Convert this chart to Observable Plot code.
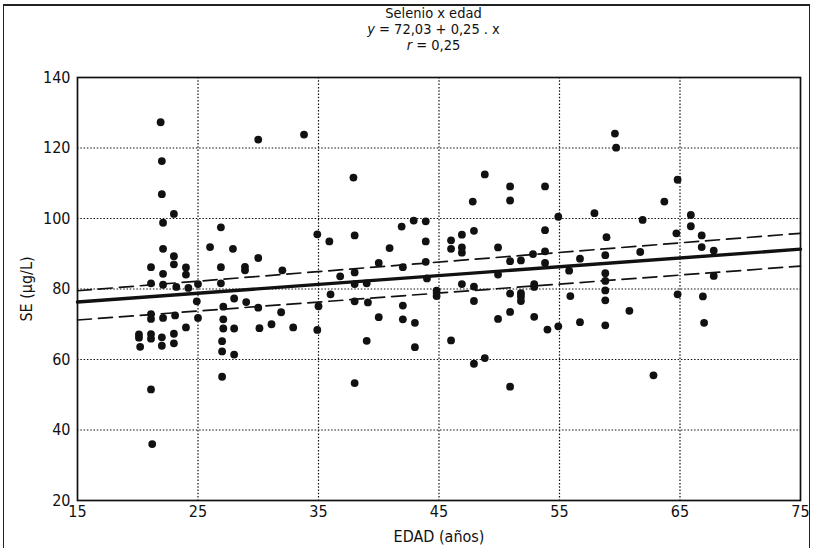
<!DOCTYPE html>
<html>
<head>
<meta charset="utf-8">
<script src="https://cdn.jsdelivr.net/npm/d3@7"></script>
<script src="https://cdn.jsdelivr.net/npm/@observablehq/plot@0.6"></script>
<style>
  html, body { margin: 0; padding: 0; background: #fff; }
  body { width: 813px; height: 548px; overflow: hidden; position: relative;
         font-family: "Liberation Sans Narrow", "Arial Narrow", "DejaVu Sans Condensed", sans-serif; color: #111; }
  #box { position: absolute; left: 3px; top: 4px; width: 807px; height: 560px; border: 1.5px solid #222; border-top-width: 2px; box-sizing: border-box; pointer-events: none; }
  #title { height: 62px; padding-top: 5px; box-sizing: border-box; text-align: center; font-size: 14.5px; line-height: 16px; padding-left: 54px; }
  #chart svg { display: block; }
</style>
</head>
<body>
<div id="box"></div>
<div id="title">
  <div>Selenio x edad</div>
  <div><i>y</i> = 72,03 + 0,25 . x</div>
  <div><i>r</i> = 0,25</div>
</div>
<div id="chart"></div>
<script>
// Edad (años) of each subject
const edad = [
  21.9, 30.0, 33.8, 22.0, 22.0, 23.0, 22.1, 26.9, 34.9, 35.9,
  22.1, 26.0, 27.9, 23.0, 30.0, 23.0, 21.1, 24.0, 24.0, 22.1,
  26.9, 28.9, 28.9, 32.0, 36.8, 21.1, 22.1, 23.2, 24.2, 25.0,
  26.9, 24.9, 28.0, 29.0, 27.1, 30.0, 31.9, 35.0, 36.0, 21.1,
  21.1, 22.1, 23.1, 25.0, 27.1, 24.0, 27.1, 28.0, 30.1, 31.1,
  32.9, 34.9, 20.1, 20.1, 21.1, 21.1, 22.0, 23.0, 20.2, 22.0,
  23.0, 27.0, 27.0, 28.0, 27.0, 21.1, 21.2,
  37.9, 48.8, 50.9, 53.8, 47.8, 50.9, 54.9, 53.8, 38.0, 40.9,
  41.9, 42.9, 43.9, 43.9, 46.0, 46.9, 47.9, 46.0, 46.9, 46.9,
  49.9, 52.8, 53.8,
  53.8, 50.9, 51.8, 56.7, 40.0, 42.0, 43.9, 38.0, 49.9, 55.8,
  38.0, 39.0, 44.0, 46.9, 47.9, 52.9, 52.9, 44.8, 44.8, 50.9,
  51.8, 51.8, 51.8, 55.9, 38.0, 39.1, 47.9, 42.0, 50.9, 40.0,
  42.0, 43.0, 49.9, 52.9, 54.0, 54.9, 56.7, 39.0, 46.0, 43.0,
  47.9, 48.8, 38.0, 50.9,
  59.6, 59.7, 64.8, 63.7, 57.9, 61.9, 65.9, 65.9, 58.9, 64.7,
  66.8, 66.8, 67.8, 61.7, 58.8,
  58.8, 58.8, 58.8, 58.8, 67.8, 60.8, 64.8, 66.9, 58.8, 67.0, 62.8
];
// Selenio sérico SE (µg/L) of each subject
const se = [
  127.3, 122.4, 123.8, 116.3, 106.9, 101.3, 98.8, 97.5, 95.5, 93.5,
  91.4, 91.9, 91.4, 89.3, 88.8, 87.0, 86.2, 86.1, 84.1, 84.3,
  86.2, 86.3, 85.3, 85.3, 83.6, 81.6, 81.2, 80.6, 80.3, 81.4,
  81.6, 76.5, 77.3, 76.3, 75.0, 74.7, 73.4, 75.1, 78.5, 72.9,
  71.5, 71.8, 72.5, 71.8, 71.4, 69.1, 68.8, 68.8, 68.9, 70.0,
  69.1, 68.4, 67.1, 66.2, 67.2, 65.9, 66.3, 67.3, 63.6, 63.9,
  64.6, 65.2, 62.3, 61.4, 55.1, 51.5, 36.0,
  111.6, 112.5, 109.1, 109.1, 104.8, 105.1, 100.5, 96.7, 95.2, 91.6,
  97.7, 99.4, 99.2, 93.5, 93.8, 95.4, 96.5, 91.4, 91.8, 90.3,
  91.8, 89.9, 90.7,
  87.4, 87.9, 88.1, 88.6, 87.4, 86.2, 87.7, 84.7, 84.1, 85.2,
  81.4, 81.6, 83.0, 81.4, 80.7, 81.4, 80.6, 79.5, 78.0, 78.7,
  78.8, 77.9, 76.6, 78.0, 76.5, 76.2, 76.6, 75.3, 73.5, 72.0,
  71.4, 70.4, 71.5, 72.1, 68.5, 69.4, 70.6, 65.3, 65.4, 63.5,
  58.8, 60.4, 53.3, 52.3,
  124.1, 120.1, 111.0, 104.8, 101.5, 99.6, 101.0, 97.8, 94.7, 95.8,
  95.2, 91.9, 90.9, 90.5, 89.6,
  84.5, 82.3, 79.6, 76.8, 83.7, 73.8, 78.5, 77.9, 69.7, 70.4, 55.5
];
// Regression line and its confidence limits, read at both ends of the axis
const lineX = [15, 75];
const regY = [76.3, 91.3];
const upperY = [79.5, 95.8];
const lowerY = [71.2, 86.5];
// Tick labels
const xTicks = [15, 25, 35, 45, 55, 65, 75];
const yTicks = [20, 40, 60, 80, 100, 120, 140];
const xGrid = [25, 35, 45, 55, 65];
const yGrid = [40, 60, 80, 100, 120];

const points = edad.map((x, i) => ({x, y: se[i]}));
const reg = lineX.map((x, i) => ({x, y: regY[i]}));
const upper = lineX.map((x, i) => ({x, y: upperY[i]}));
const lower = lineX.map((x, i) => ({x, y: lowerY[i]}));

const fontFam = '"Liberation Sans Narrow", "Arial Narrow", "DejaVu Sans Condensed", sans-serif';
const chart = Plot.plot({
  width: 813,
  height: 486,
  marginTop: 15,
  marginBottom: 48,
  marginLeft: 77,
  marginRight: 13,
  style: {fontFamily: fontFam, fontSize: "15px", color: "#111", background: "transparent"},
  x: {domain: [15, 75]},
  y: {domain: [20, 140]},
  marks: [
    Plot.ruleX(xGrid, {stroke: "#111", strokeWidth: 1.2, strokeDasharray: "1.5,1.8"}),
    Plot.ruleY(yGrid, {stroke: "#111", strokeWidth: 1.2, strokeDasharray: "1.5,1.8"}),
    Plot.line(upper, {x: "x", y: "y", stroke: "#111", strokeWidth: 1.7, strokeDasharray: "14,7"}),
    Plot.line(lower, {x: "x", y: "y", stroke: "#111", strokeWidth: 1.7, strokeDasharray: "14,7"}),
    Plot.line(reg, {x: "x", y: "y", stroke: "#111", strokeWidth: 3.4}),
    Plot.dot(points, {x: "x", y: "y", r: 3.9, fill: "#111", stroke: "none"}),
    Plot.frame({stroke: "#111", strokeWidth: 1.7}),
    Plot.axisX(xTicks, {tickSize: 0, tickPadding: 5, fontSize: 16, label: "EDAD (años)", labelAnchor: "center", labelArrow: "none", labelOffset: 41}),
    Plot.axisY(yTicks, {tickSize: 0, tickPadding: 7, fontSize: 16, label: "SE (µg/L)", labelAnchor: "center", labelArrow: "none", labelOffset: 57})
  ]
});
document.getElementById("chart").appendChild(chart);
</script>
</body>
</html>
